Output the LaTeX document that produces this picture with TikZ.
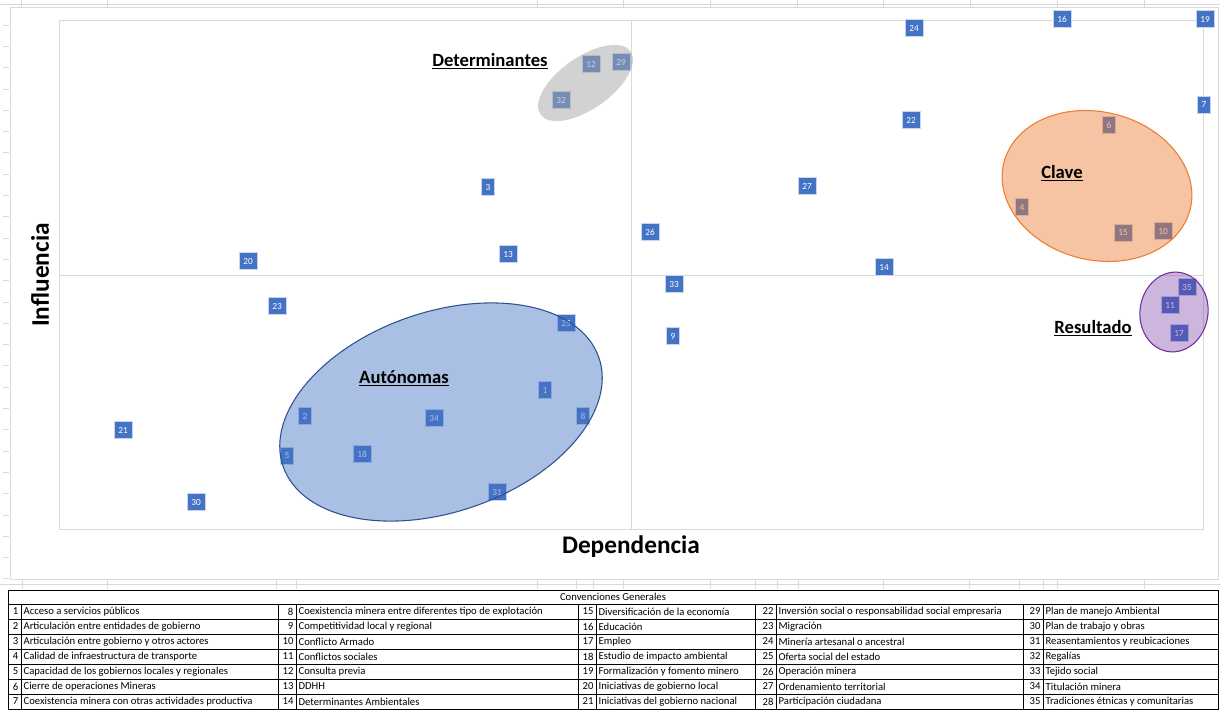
\documentclass[tikz,border=0pt]{standalone}
\usepackage{fontspec}
\setmainfont{Carlito}
\definecolor{mkblue}{HTML}{4472C4}
\definecolor{framegray}{HTML}{D9D9D9}
\definecolor{orng}{HTML}{ED7D31}
\definecolor{purp}{HTML}{7030A0}
\definecolor{darkblue}{HTML}{2F528F}
\tikzset{
  mk/.style={fill=mkblue, draw=white!70!mkblue, line width=0.3pt, text=white,
    font=\fontsize{7}{8}\selectfont, inner xsep=3pt, inner ysep=0pt,
    minimum height=12.5pt, minimum width=9pt},
  grouplbl/.style={font=\fontsize{14}{16}\selectfont\bfseries},
  axislbl/.style={font=\fontsize{19}{21}\selectfont\bfseries},
  numcell/.style={anchor=east, inner sep=1pt, font=\fontsize{8}{9}\selectfont},
  txtcell/.style={anchor=west, inner sep=1pt, font=\fontsize{8}{9}\selectfont},
  sheet/.style={draw=framegray, line width=0.6pt},
}
\begin{document}
\begin{tikzpicture}[x=0.75pt,y=-0.75pt]
    \useasboundingbox (0,0) rectangle (1220,711);
    % sheet lines behind the chart
    \draw[sheet] (0,4) -- (1220,4);
    \draw[sheet] (21,0) -- (21,8) (107,0) -- (107,8) (537,0) -- (537,8) (623,0) -- (623,8)
        (710,0) -- (710,8) (797,0) -- (797,8) (883,0) -- (883,8) (970,0) -- (970,8)
        (1057,0) -- (1057,8) (1144,0) -- (1144,8);
    \draw[sheet] (0,584) -- (1220,584);
    \draw[sheet] (22,579) -- (22,589) (107,579) -- (107,589) (276,579) -- (276,589)
        (296,579) -- (296,589) (537,579) -- (537,589) (576,579) -- (576,589)
        (593,579) -- (593,589) (623,579) -- (623,589) (710,579) -- (710,589)
        (755,579) -- (755,589) (777,579) -- (777,589) (798,579) -- (798,589)
        (883,579) -- (883,589) (969,579) -- (969,589) (1019,579) -- (1019,589)
        (1043,579) -- (1043,589) (1057,579) -- (1057,589) (1144,579) -- (1144,589);
    \foreach \ty in {25,46.3,...,580} {\draw[sheet] (3,\ty) -- (9,\ty);}

    % chart area and plot area
    \draw[sheet, fill=white] (10,7) rectangle (1218,579);
    \draw[sheet] (59,20) rectangle (1203,529);
    \draw[sheet] (631,20) -- (631,529);
    \draw[sheet] (59,275) -- (1203,275);

    \node[axislbl, rotate=90] (infl) at (40,275) {Influencia};
    \node[axislbl] (dep) at (631,547) {Dependencia};

    % variables
    \node[mk] (p24) at (914,28) {24};
    \node[mk] (p16) at (1062,19) {16};
    \node[mk] (p19) at (1205,19) {19};
    \node[mk] (p12) at (591,64) {12};
    \node[mk] (p29) at (621,62) {29};
    \node[mk] (p32) at (561,100) {32};
    \node[mk] (p7) at (1204,105) {7};
    \node[mk] (p22) at (911,120) {22};
    \node[mk] (p6) at (1109,125) {6};
    \node[mk] (p3) at (488,187) {3};
    \node[mk] (p27) at (807,186) {27};
    \node[mk] (p4) at (1022,207) {4};
    \node[mk] (p26) at (650,232) {26};
    \node[mk] (p15) at (1123,233) {15};
    \node[mk] (p10) at (1163,231) {10};
    \node[mk] (p13) at (508,254) {13};
    \node[mk] (p20) at (248,261) {20};
    \node[mk] (p14) at (884,267) {14};
    \node[mk] (p33) at (674,284) {33};
    \node[mk] (p35) at (1187,287) {35};
    \node[mk] (p23) at (277,306) {23};
    \node[mk] (p11) at (1170,305) {11};
    \node[mk] (p25) at (566,323) {25};
    \node[mk] (p17) at (1179,333) {17};
    \node[mk] (p9) at (673,336) {9};
    \node[mk] (p1) at (545,390) {1};
    \node[mk] (p2) at (305,416) {2};
    \node[mk] (p8) at (583,416) {8};
    \node[mk] (p34) at (434,418) {34};
    \node[mk] (p21) at (123,430) {21};
    \node[mk] (p18) at (362,454) {18};
    \node[mk] (p5) at (287,456) {5};
    \node[mk] (p31) at (497,492) {31};
    \node[mk] (p30) at (196,502) {30};

    % groups
    \fill[black!35, fill opacity=0.5, rotate around={35:(585.5,83)}] (585.5,83) ellipse [x radius=55, y radius=26];
    \draw[darkblue, fill=mkblue, fill opacity=0.45, line width=0.8pt, rotate around={19:(441,412)}] (441,412) ellipse [x radius=167, y radius=100];
    \draw[orng, fill=orng, fill opacity=0.45, line width=0.8pt, rotate around={-14:(1097,186)}] (1097,186) ellipse [x radius=96, y radius=74];
    \draw[purp, fill=purp, fill opacity=0.35, line width=0.8pt, rotate around={-8:(1174,312)}] (1174,312) ellipse [x radius=34, y radius=40];

    \node[grouplbl] (det) at (490,61) {\underline{Determinantes}};
    \node[grouplbl] (aut) at (404,378) {\underline{Autónomas}};
    \node[grouplbl] (clave) at (1062,173) {\underline{Clave}};
    \node[grouplbl] (res) at (1093,328) {\underline{Resultado}};

    % convenciones
    \draw[line width=0.5pt] (8,590) rectangle (1218,709);
    \draw[line width=0.4pt] (8,604) -- (1218,604) (8,619) -- (1218,619) (8,634) -- (1218,634)
        (8,649) -- (1218,649) (8,664) -- (1218,664) (8,679) -- (1218,679) (8,694) -- (1218,694);
    \draw[line width=0.4pt] (21,604) -- (21,709) (278,604) -- (278,709) (296,604) -- (296,709)
        (578,604) -- (578,709) (596,604) -- (596,709) (755,604) -- (755,709)
        (776,604) -- (776,709) (1023,604) -- (1023,709) (1043,604) -- (1043,709);
    \node[font=\fontsize{8}{9}\selectfont] (conv) at (613,597) {Convenciones Generales};

    \node[numcell] (n1) at (20,611.5) {1}; \node[txtcell] (t1) at (22,611.5) {Acceso a servicios públicos};
    \node[numcell] (n2) at (20,626.5) {2}; \node[txtcell] (t2) at (22,626.5) {Articulación entre entidades de gobierno};
    \node[numcell] (n3) at (20,641.5) {3}; \node[txtcell] (t3) at (22,641.5) {Articulación entre gobierno y otros actores};
    \node[numcell] (n4) at (20,656.5) {4}; \node[txtcell] (t4) at (22,656.5) {Calidad de infraestructura de transporte};
    \node[numcell] (n5) at (20,671.5) {5}; \node[txtcell] (t5) at (22,671.5) {Capacidad de los gobiernos locales y regionales};
    \node[numcell] (n6) at (20,686.5) {6}; \node[txtcell] (t6) at (22,686.5) {Cierre de operaciones Mineras};
    \node[numcell] (n7) at (20,701.5) {7}; \node[txtcell] (t7) at (22,701.5) {Coexistencia minera con otras actividades productiva};

    \node[numcell] (n8) at (295,611.5) {8}; \node[txtcell] (t8) at (297,611.5) {Coexistencia minera entre diferentes tipo de explotación};
    \node[numcell] (n9) at (295,626.5) {9}; \node[txtcell] (t9) at (297,626.5) {Competitividad local y regional};
    \node[numcell] (n10) at (295,641.5) {10}; \node[txtcell] (t10) at (297,641.5) {Conflicto Armado};
    \node[numcell] (n11) at (295,656.5) {11}; \node[txtcell] (t11) at (297,656.5) {Conflictos sociales};
    \node[numcell] (n12) at (295,671.5) {12}; \node[txtcell] (t12) at (297,671.5) {Consulta previa};
    \node[numcell] (n13) at (295,686.5) {13}; \node[txtcell] (t13) at (297,686.5) {DDHH};
    \node[numcell] (n14) at (295,701.5) {14}; \node[txtcell] (t14) at (297,701.5) {Determinantes Ambientales};

    \node[numcell] (n15) at (595,611.5) {15}; \node[txtcell] (t15) at (597,611.5) {Diversificación de la economía};
    \node[numcell] (n16) at (595,626.5) {16}; \node[txtcell] (t16) at (597,626.5) {Educación};
    \node[numcell] (n17) at (595,641.5) {17}; \node[txtcell] (t17) at (597,641.5) {Empleo};
    \node[numcell] (n18) at (595,656.5) {18}; \node[txtcell] (t18) at (597,656.5) {Estudio de impacto ambiental};
    \node[numcell] (n19) at (595,671.5) {19}; \node[txtcell] (t19) at (597,671.5) {Formalización y fomento minero};
    \node[numcell] (n20) at (595,686.5) {20}; \node[txtcell] (t20) at (597,686.5) {Iniciativas de gobierno local};
    \node[numcell] (n21) at (595,701.5) {21}; \node[txtcell] (t21) at (597,701.5) {Iniciativas del gobierno nacional};

    \node[numcell] (n22) at (775,611.5) {22}; \node[txtcell] (t22) at (777,611.5) {Inversión social o responsabilidad social empresaria};
    \node[numcell] (n23) at (775,626.5) {23}; \node[txtcell] (t23) at (777,626.5) {Migración};
    \node[numcell] (n24) at (775,641.5) {24}; \node[txtcell] (t24) at (777,641.5) {Minería artesanal o ancestral};
    \node[numcell] (n25) at (775,656.5) {25}; \node[txtcell] (t25) at (777,656.5) {Oferta social del estado};
    \node[numcell] (n26) at (775,671.5) {26}; \node[txtcell] (t26) at (777,671.5) {Operación minera};
    \node[numcell] (n27) at (775,686.5) {27}; \node[txtcell] (t27) at (777,686.5) {Ordenamiento territorial};
    \node[numcell] (n28) at (775,701.5) {28}; \node[txtcell] (t28) at (777,701.5) {Participación ciudadana};

    \node[numcell] (n29) at (1042,611.5) {29}; \node[txtcell] (t29) at (1044,611.5) {Plan de manejo Ambiental};
    \node[numcell] (n30) at (1042,626.5) {30}; \node[txtcell] (t30) at (1044,626.5) {Plan de trabajo y obras};
    \node[numcell] (n31) at (1042,641.5) {31}; \node[txtcell] (t31) at (1044,641.5) {Reasentamientos y reubicaciones};
    \node[numcell] (n32) at (1042,656.5) {32}; \node[txtcell] (t32) at (1044,656.5) {Regalías};
    \node[numcell] (n33) at (1042,671.5) {33}; \node[txtcell] (t33) at (1044,671.5) {Tejido social};
    \node[numcell] (n34) at (1042,686.5) {34}; \node[txtcell] (t34) at (1044,686.5) {Titulación minera};
    \node[numcell] (n35) at (1042,701.5) {35}; \node[txtcell] (t35) at (1044,701.5) {Tradiciones étnicas y comunitarias};
\end{tikzpicture}
\end{document}
